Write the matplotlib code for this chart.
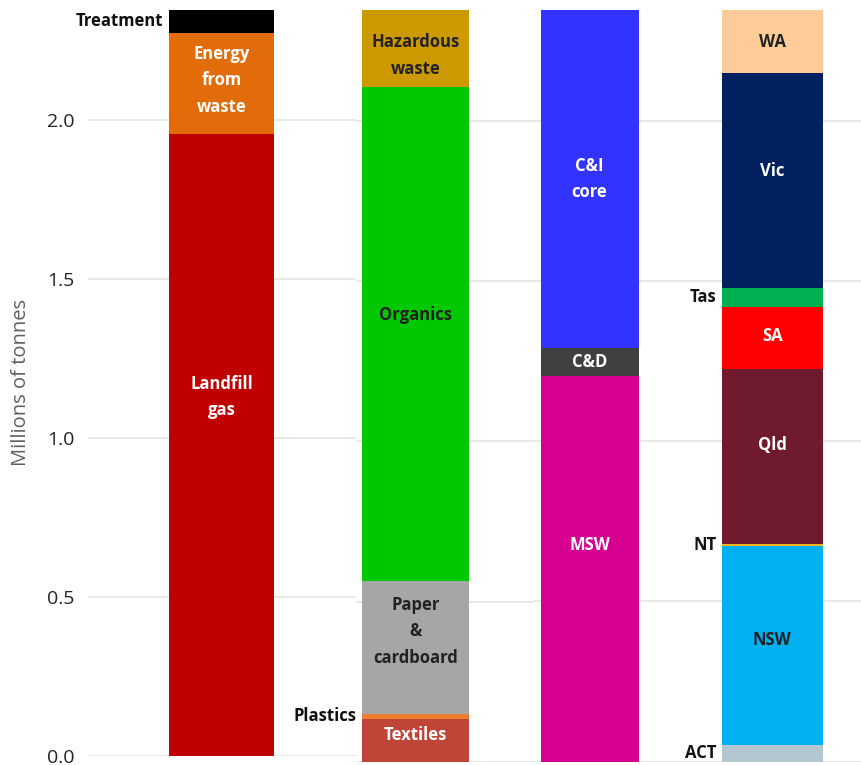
import matplotlib
matplotlib.use("Agg")
import matplotlib.pyplot as plt

plt.rcParams["font.family"] = ["Open Sans", "DejaVu Sans"]

# Emissions by source (millions of tonnes), stacked bottom to top
source_labels = ["Landfill\ngas", "Energy\nfrom\nwaste", "Treatment"]
source_values = [1.956, 0.319, 0.071]

material_labels = ["Textiles", "Plastics", "Paper\n&\ncardboard", "Organics", "Hazardous\nwaste"]
material_values = [0.134, 0.015, 0.416, 1.541, 0.240]

stream_labels = ["MSW", "C&D", "C&I\ncore"]
stream_values = [1.204, 0.087, 1.055]

state_labels = ["ACT", "NSW", "NT", "Qld", "SA", "Tas", "Vic", "WA"]
state_values = [0.053, 0.619, 0.008, 0.546, 0.194, 0.059, 0.669, 0.198]

y_ticks = [0.0, 0.5, 1.0, 1.5, 2.0]

DARK = "#222222"
panels = [
    dict(labels=source_labels, values=source_values,
         colors=["#C00000", "#E36C0A", "#000000"],
         text=["white", "white", DARK],
         outside={"Treatment"},
         nudge={"Landfill\ngas": 48, "Energy\nfrom\nwaste": 3},
         rect=(88, 10, 356, 755.6), xlim=(-1.26, 1.27)),
    dict(labels=material_labels, values=material_values,
         colors=["#BF4538", "#ED7D31", "#A6A6A6", "#00C800", "#CC9900"],
         text=["white", DARK, DARK, DARK, DARK],
         outside={"Plastics"},
         nudge={"Textiles": 5, "Paper\n&\ncardboard": 16, "Organics": 19, "Hazardous\nwaste": -7},
         rect=(356, 10, 534, 761.8), xlim=(-0.556, 1.113)),
    dict(labels=stream_labels, values=stream_values,
         colors=["#D5008F", "#404040", "#3333FF"],
         text=["white", "white", "white"],
         outside=set(),
         nudge={"MSW": 24},
         rect=(534, 10, 720.7, 761.5), xlim=(-0.567, 1.338)),
    dict(labels=state_labels, values=state_values,
         colors=["#B4C7D1", "#00B0F0", "#F0B323", "#701A2E", "#FF0000",
                 "#00B050", "#002060", "#FFCC99"],
         text=[DARK, DARK, DARK, "white", "white", DARK, "white", DARK],
         outside={"ACT", "NT", "Tas"},
         nudge={"NSW": 5, "Qld": 11, "SA": 2, "Vic": 10},
         rect=(720.7, 10, 861, 761.5), xlim=(-0.51, 0.879)),
]

W, H = 861, 765
fig = plt.figure(figsize=(W / 100, H / 100), dpi=100)

total = sum(source_values)
for i, p in enumerate(panels):
    x0, ytop, x1, ybot = p["rect"]
    ax = fig.add_axes([x0 / W, (H - ybot) / H, (x1 - x0) / W, (ybot - ytop) / H])
    ax.set_xlim(*p["xlim"])
    ax.set_ylim(0, total)
    for s in ax.spines.values():
        s.set_visible(False)
    ax.set_xticks([])
    ax.set_yticks(y_ticks)
    ax.yaxis.grid(True, color="#E6E6E6", linewidth=1.3)
    ax.set_axisbelow(True)
    ax.tick_params(axis="y", length=0)
    if i == 0:
        ax.set_yticklabels([f"{t:.1f}" for t in y_ticks], fontsize=14, color="#252423")
        ax.tick_params(axis="y", pad=10)
        ax.set_ylabel("Millions of tonnes", fontsize=14.5, color="#5F5F5F", labelpad=11)
    else:
        ax.set_yticklabels([])

    bottom = 0.0
    for lab, val, col, tc in zip(p["labels"], p["values"], p["colors"], p["text"]):
        ax.bar(0, val, width=1.0, bottom=bottom, color=col, linewidth=0)
        mid = bottom + val / 2
        if lab in p["outside"]:
            ax.annotate(lab, xy=(-0.5, mid), xytext=(-5, 0), textcoords="offset pixels",
                        ha="right", va="center", fontsize=12, fontweight="bold",
                        color="#111111")
        else:
            ax.annotate(lab, xy=(0, mid), xytext=(0, p["nudge"].get(lab, 0)),
                        textcoords="offset pixels", ha="center", va="center",
                        fontsize=12, fontweight="bold", color=tc, linespacing=1.6)
        bottom += val

fig.savefig("out.png", dpi=100)
